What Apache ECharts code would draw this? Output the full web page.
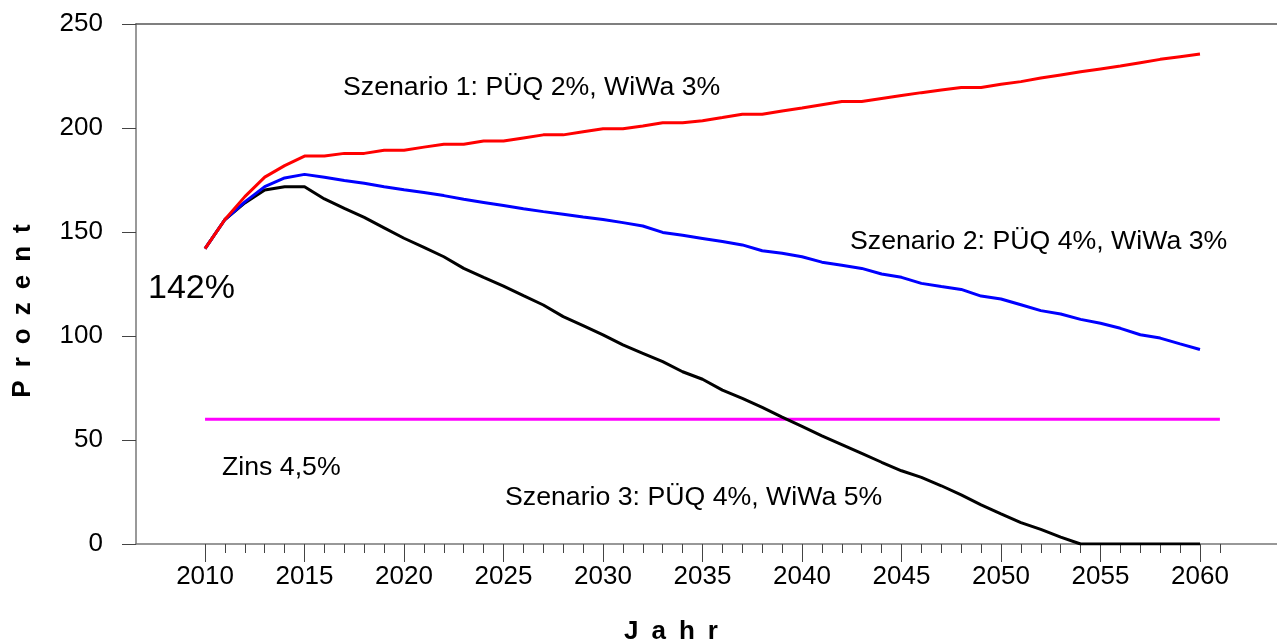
<!DOCTYPE html>
<html>
<head>
<meta charset="utf-8">
<script src="https://cdn.jsdelivr.net/npm/echarts@6/dist/echarts.min.js"></script>
<style>html,body{margin:0;padding:0;background:#fff}#c{width:1277px;height:641px}</style>
</head>
<body>
<div id="c"></div>
<script>
const years = [2010,2011,2012,2013,2014,2015,2016,2017,2018,2019,2020,2021,2022,2023,2024,2025,2026,2027,2028,2029,2030,2031,2032,2033,2034,2035,2036,2037,2038,2039,2040,2041,2042,2043,2044,2045,2046,2047,2048,2049,2050,2051,2052,2053,2054,2055,2056,2057,2058,2059,2060];
const szenario1 = [142,156,167,176.4,181.9,186.5,186.5,187.8,187.8,189.3,189.3,190.8,192.2,192.2,193.7,193.7,195.2,196.7,196.7,198.2,199.6,199.6,201,202.5,202.5,203.5,205,206.6,206.6,208.2,209.6,211.2,212.7,212.7,214.2,215.6,217,218.3,219.5,219.5,221,222.3,224,225.5,227,228.4,229.8,231.4,233,234.3,235.6];
const szenario2 = [142,156,164.5,171.8,176,177.7,176.3,174.8,173.4,171.8,170.3,169,167.5,165.7,164.2,162.7,161.2,159.8,158.5,157.2,156,154.5,152.9,149.8,148.4,146.9,145.4,143.8,141,139.8,138.1,135.5,134,132.5,129.8,128.2,125.3,123.8,122.4,119.2,117.8,115,112.2,110.6,108,106.1,103.7,100.6,99,96.2,93.5];
const szenario3 = [142,156,164,170.2,171.8,171.8,165.9,161.4,157,152,147,142.6,138.1,132.5,128.2,124,119.4,114.9,109.3,105,100.5,95.7,91.7,87.7,82.8,79.2,74,70,65.7,61,56.5,52,47.8,43.6,39.3,35.2,32,28,23.6,18.8,14.5,10.3,7,3.3,0,0,0,0,0,0,0];
const zinsYears = [2010, 2061];
const zinsValues = [60, 60];
const majorYearTicks = [2010,2015,2020,2025,2030,2035,2040,2045,2050,2055,2060];
const minorYearTicks = [2010,2011,2012,2013,2014,2015,2016,2017,2018,2019,2020,2021,2022,2023,2024,2025,2026,2027,2028,2029,2030,2031,2032,2033,2034,2035,2036,2037,2038,2039,2040,2041,2042,2043,2044,2045,2046,2047,2048,2049,2050,2051,2052,2053,2054,2055,2056,2057,2058,2059,2060,2061];

const FONT = '"Liberation Sans", Arial, sans-serif';
const pair = (xs, ys) => xs.map((x, i) => [x, ys[i]]);
const X_MIN = 2006.53, X_MAX = 2063.87;

const chart = echarts.init(document.getElementById('c'), null, {renderer: 'canvas'});
chart.setOption({
  animation: false,
  backgroundColor: '#fff',
  grid: {left: 136, right: 0, top: 24, bottom: 97, containLabel: false, outerBoundsMode: 'none'},
  xAxis: [
    {type: 'value', position: 'bottom', min: X_MIN, max: X_MAX,
     axisLine: {show: true, lineStyle: {color: '#777', width: 1.5}},
     axisTick: {show: true, customValues: minorYearTicks, length: 9, lineStyle: {color: '#444', width: 1}},
     axisLabel: {show: false}, splitLine: {show: false}},
    {type: 'value', position: 'bottom', min: X_MIN, max: X_MAX,
     axisLine: {show: false},
     axisTick: {show: true, customValues: majorYearTicks, length: 18, lineStyle: {color: '#444', width: 1}},
     axisLabel: {show: true, customValues: majorYearTicks, fontSize: 26, fontFamily: FONT, color: '#000', margin: 20,
                 formatter: v => String(Math.round(v))},
     splitLine: {show: false}},
    {type: 'value', position: 'top', min: X_MIN, max: X_MAX,
     axisLine: {show: true, lineStyle: {color: '#555', width: 1.5}},
     axisTick: {show: false}, axisLabel: {show: false}, splitLine: {show: false}}
  ],
  yAxis: [{
    type: 'value', min: 0, max: 250, interval: 50,
    axisLine: {show: true, lineStyle: {color: '#777', width: 1.5}},
    axisTick: {show: true, inside: false, length: 14, lineStyle: {color: '#444', width: 1}},
    axisLabel: {fontSize: 26, fontFamily: FONT, color: '#000', margin: 33},
    splitLine: {show: false}
  }],
  series: [
    {name: 'Zins 4,5%', type: 'line', xAxisIndex: 0, data: pair(zinsYears, zinsValues), showSymbol: false, symbol: 'none',
     lineStyle: {color: '#ff00ff', width: 3}, z: 2},
    {name: 'Szenario 3', type: 'line', xAxisIndex: 0, data: pair(years, szenario3), showSymbol: false, symbol: 'none',
     lineStyle: {color: '#000', width: 3}, z: 3},
    {name: 'Szenario 2', type: 'line', xAxisIndex: 0, data: pair(years, szenario2), showSymbol: false, symbol: 'none',
     lineStyle: {color: '#0000ff', width: 3}, z: 4},
    {name: 'Szenario 1', type: 'line', xAxisIndex: 0, data: pair(years, szenario1), showSymbol: false, symbol: 'none',
     lineStyle: {color: '#ff0000', width: 3}, z: 5}
  ],
  graphic: [
    {type: 'text', x: 343, y: 88, style: {text: 'Szenario 1: PÜQ 2%, WiWa 3%', font: '26.7px ' + FONT, fill: '#000', verticalAlign: 'middle'}},
    {type: 'text', x: 850, y: 242, style: {text: 'Szenario 2: PÜQ 4%, WiWa 3%', font: '26.7px ' + FONT, fill: '#000', verticalAlign: 'middle'}},
    {type: 'text', x: 505, y: 498, style: {text: 'Szenario 3: PÜQ 4%, WiWa 5%', font: '26.7px ' + FONT, fill: '#000', verticalAlign: 'middle'}},
    {type: 'text', x: 222, y: 468, style: {text: 'Zins 4,5%', font: '26.7px ' + FONT, fill: '#000', verticalAlign: 'middle'}},
    {type: 'text', x: 148, y: 289, style: {text: '142%', font: '34px ' + FONT, fill: '#000', verticalAlign: 'middle'}},
    {type: 'text', x: 23, y: 311, rotation: Math.PI / 2,
     style: {text: 'P\u2002r\u2002o\u2002z\u2002e\u2002n\u2002t', font: 'bold 26px ' + FONT, fill: '#000', align: 'center', verticalAlign: 'middle'}},
    {type: 'text', x: 671, y: 632,
     style: {text: 'J\u2002a\u2002h\u2002r', font: 'bold 26px ' + FONT, fill: '#000', align: 'center', verticalAlign: 'middle'}}
  ]
});
</script>
</body>
</html>
